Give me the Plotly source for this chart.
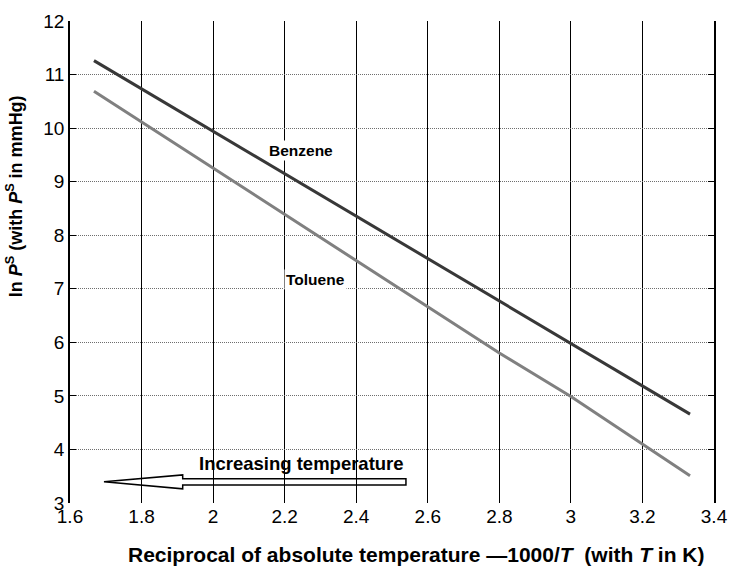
import plotly.graph_objects as go

# Reciprocal temperature, 1000/T (T in K)
benzene_x = [1.667, 2.0, 2.4, 2.8, 3.0, 3.2, 3.333]
benzene_lnp = [11.26, 9.94, 8.35, 6.77, 5.97, 5.18, 4.66]

toluene_x = [1.667, 2.0, 2.2, 2.4, 2.8, 3.0, 3.2, 3.333]
toluene_lnp = [10.69, 9.25, 8.40, 7.52, 5.80, 4.99, 4.11, 3.51]

x_ticks = [1.6, 1.8, 2.0, 2.2, 2.4, 2.6, 2.8, 3.0, 3.2, 3.4]
x_tick_text = ["1.6", "1.8", "2", "2.2", "2.4", "2.6", "2.8", "3", "3.2", "3.4"]
y_ticks = [3, 4, 5, 6, 7, 8, 9, 10, 11, 12]

FONT = "Liberation Sans, Arial, sans-serif"

fig = go.Figure()
fig.add_trace(go.Scatter(x=benzene_x, y=benzene_lnp, mode="lines",
                         line=dict(color="#383838", width=3), name="Benzene",
                         showlegend=False))
fig.add_trace(go.Scatter(x=toluene_x, y=toluene_lnp, mode="lines",
                         line=dict(color="#808080", width=3), name="Toluene",
                         showlegend=False))

# curve labels (white box hides the grid behind them)
fig.add_annotation(x=2.247, y=9.59, text="<b>Benzene</b>", showarrow=False,
                   bgcolor="white", borderpad=1,
                   font=dict(family=FONT, size=15.5, color="black"))
fig.add_annotation(x=2.285, y=7.18, text="<b>Toluene</b>", showarrow=False,
                   bgcolor="white", borderpad=1,
                   font=dict(family=FONT, size=15.5, color="black"))

# hollow arrow pointing toward higher temperature
tip_x, head_x, tail_x = 1.695, 1.915, 2.539
mid_y, head_half, shaft_half = 3.395, 0.13, 0.06
arrow_path = (
    f"M {tip_x} {mid_y} "
    f"L {head_x} {mid_y + head_half} L {head_x} {mid_y + shaft_half} "
    f"L {tail_x} {mid_y + shaft_half} L {tail_x} {mid_y - shaft_half} "
    f"L {head_x} {mid_y - shaft_half} L {head_x} {mid_y - head_half} Z"
)
fig.add_shape(type="path", path=arrow_path, xref="x", yref="y",
              line=dict(color="black", width=1.5), fillcolor="rgba(0,0,0,0)")
fig.add_annotation(x=2.247, y=3.73, text="<b>Increasing temperature</b>",
                   showarrow=False,
                   font=dict(family=FONT, size=18.5, color="black"))

# axis titles
fig.add_annotation(xref="paper", yref="paper", x=0.537, y=-0.107,
                   xanchor="center", yanchor="middle", showarrow=False,
                   text="<b>Reciprocal of absolute temperature \u20141000/<i>T</i>  "
                        "(with <i>T</i> in K)</b>",
                   font=dict(family=FONT, size=21, color="black"))
fig.add_annotation(xref="paper", yref="paper", x=-0.085, y=0.637,
                   xanchor="center", yanchor="middle", showarrow=False,
                   textangle=-90,
                   text="<b>ln <i>P</i><sup>S</sup> (with <i>P</i><sup>S</sup> in mmHg)</b>",
                   font=dict(family=FONT, size=18, color="black"))

fig.update_xaxes(range=[1.6, 3.4], tickvals=x_ticks, ticktext=x_tick_text,
                 showgrid=True, gridcolor="black", gridwidth=1,
                 showline=False, zeroline=False, ticks="", automargin=False,
                 tickfont=dict(family=FONT, size=19, color="black"))
fig.update_yaxes(range=[3, 12], tickvals=y_ticks,
                 showgrid=True, gridcolor="#6e6e6e", gridwidth=1, griddash="1px,1px",
                 showline=True, linecolor="black", linewidth=1.5, mirror="ticks",
                 ticks="inside", ticklen=6, tickcolor="black",
                 zeroline=False, automargin=False,
                 tickfont=dict(family=FONT, size=19, color="black"))

fig.update_layout(
    width=732, height=566,
    margin=dict(l=70, r=18, t=21, b=63),
    plot_bgcolor="white", paper_bgcolor="white",
    showlegend=False,
)

fig.write_html("out.html")
